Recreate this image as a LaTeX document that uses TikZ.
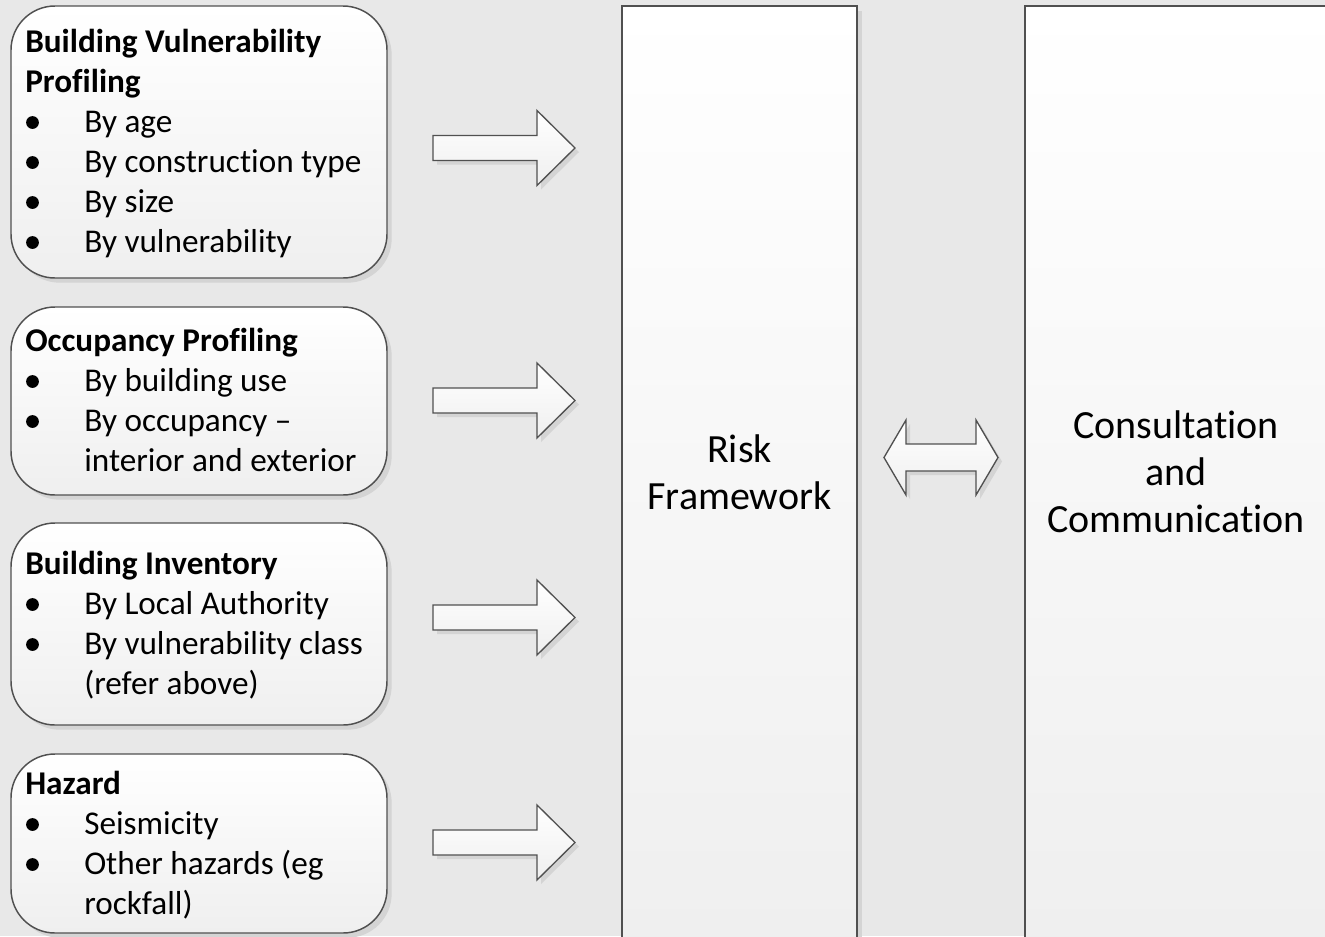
\documentclass[tikz,border=0pt]{standalone}
\usepackage{fontspec}
\setmainfont{Carlito}[Ligatures=NoCommon]
\usetikzlibrary{shadows}
\definecolor{bgc}{HTML}{E8E8E8}
\definecolor{edgec}{HTML}{505050}
\definecolor{shadc}{HTML}{D4D4D4}
\definecolor{botc}{HTML}{EFEFEF}
\newcommand\listfont{\fontsize{24.9pt}{30pt}\selectfont}
\newcommand\bigtext{\fontsize{30pt}{35.25pt}\selectfont}
\newcommand\ind{\hspace*{44.25pt}}
\newcommand\firstline{\rule{0pt}{20pt}}
\tikzset{
  boxbase/.style={draw=edgec, line width=1.1pt, top color=white, bottom color=botc,
    drop shadow={shadow xshift=3.5pt, shadow yshift=-3.5pt, fill=shadc, opacity=1}},
  rbox/.style={boxbase, rounded corners=33pt, minimum width=282pt, inner sep=0pt},
  tallbox/.style={boxbase, inner sep=0pt, align=center, font=\bigtext},
  listtext/.style={anchor=north west, align=left, inner sep=0pt, font=\listfont},
  blockarrow/.style={draw=edgec, line width=1pt, top color=white, bottom color=botc},
  arrowshadow/.style={fill=shadc},
  bulletdot/.style={fill=black},
  rarrow/.pic={
    \path[arrowshadow, shift={(4,4)}] (-71,-12.5) -- (33,-12.5) -- (33,-37.5) -- (71,0)
      -- (33,37.5) -- (33,12.5) -- (-71,12.5) -- cycle;
    \path[blockarrow] (-71,-12.5) -- (33,-12.5) -- (33,-37.5) -- (71,0)
      -- (33,37.5) -- (33,12.5) -- (-71,12.5) -- cycle;
  },
  darrow/.pic={
    \path[arrowshadow, shift={(4,4)}] (-57,0) -- (-35,-37.5) -- (-35,-13.5) -- (35,-13.5)
      -- (35,-37.5) -- (57,0) -- (35,37.5) -- (35,13.5) -- (-35,13.5) -- (-35,37.5) -- cycle;
    \path[blockarrow] (-57,0) -- (-35,-37.5) -- (-35,-13.5) -- (35,-13.5)
      -- (35,-37.5) -- (57,0) -- (35,37.5) -- (35,13.5) -- (-35,13.5) -- (-35,37.5) -- cycle;
  },
}
\begin{document}
\begin{tikzpicture}[x=0.75pt, y=-0.75pt]
\useasboundingbox (0,0) rectangle (1325,936);
\fill[bgc] (0,0) rectangle (1325,936);

% left boxes
\node[rbox, minimum height=204pt] (b1) at (199,142) {};
\node[rbox, minimum height=141pt] (b2) at (199,401) {};
\node[rbox, minimum height=151.5pt] (b3) at (199,624) {};
\node[rbox, minimum height=134.25pt] (b4) at (199,843.5) {};

% tall boxes
\node[tallbox, minimum width=176.25pt, minimum height=699pt] (risk) at (739.5,472)
  {Risk\\Framework};
\node[tallbox, minimum width=226.5pt, minimum height=699pt] (cons) at (1176,472)
  {Consultation\\and\\Communication};

% arrows
\pic (a1) at (504,148) {rarrow};
\pic (a2) at (504,400.5) {rarrow};
\pic (a3) at (504,617.5) {rarrow};
\pic (a4) at (504,842.5) {rarrow};
\pic (a5) at (941,457.5) {darrow};

% texts (first baseline = anchor y + 26.67)
\node[listtext] (t1) at (25,25.5) {\firstline\textbf{Building Vulnerability}\\\textbf{Profiling}\\
  \ind By age\\\ind By construction type\\\ind By size\\\ind By vulnerability};
\node[listtext] (t2) at (25,324.5) {\firstline\textbf{Occupancy Profiling}\\
  \ind By building use\\\ind By occupancy --\\\ind interior and exterior};
\node[listtext] (t3) at (25,547.5) {\firstline\textbf{Building Inventory}\\
  \ind By Local Authority\\\ind By vulnerability class\\\ind (refer above)};
\node[listtext] (t4) at (25,767.5) {\firstline\textbf{Hazard}\\
  \ind Seismicity\\\ind Other hazards (eg\\\ind rockfall)};

% bullets
\foreach \yy in {130,170,210,250,389,429,612,652,832,872}
  \fill[bulletdot] ({32.5},{\yy-7.5}) circle (4.8pt);
\end{tikzpicture}
\end{document}
